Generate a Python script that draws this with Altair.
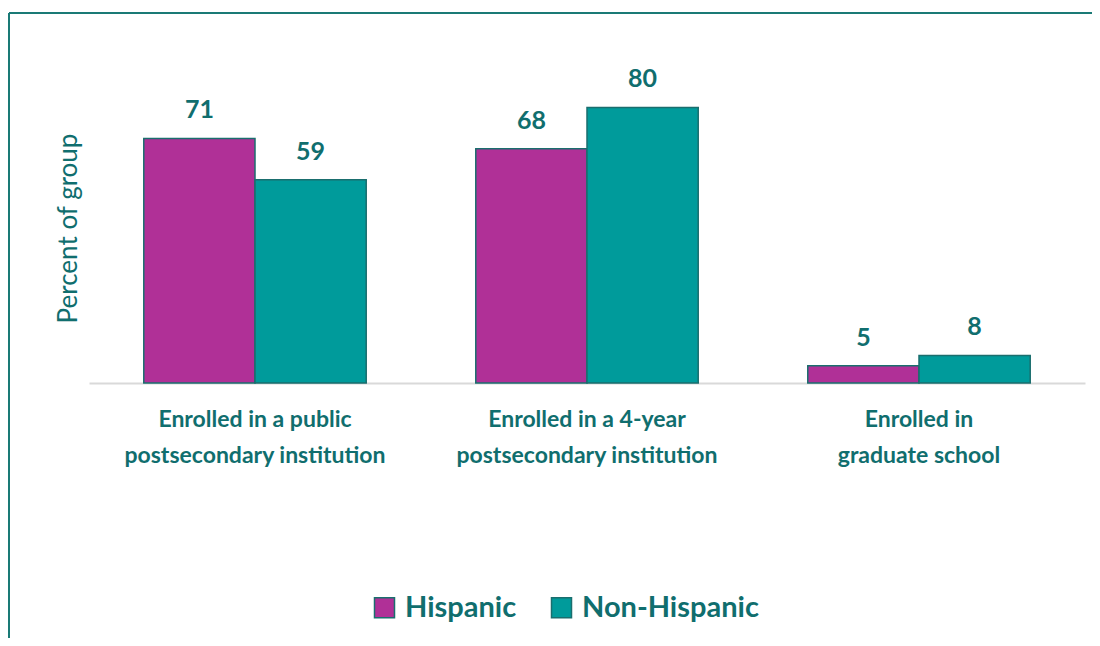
import altair as alt
import pandas as pd

categories = [
    "Enrolled in a public|postsecondary institution",
    "Enrolled in a 4-year|postsecondary institution",
    "Enrolled in|graduate school",
]
groups = ["Hispanic", "Non-Hispanic"]
hispanic = [71, 68, 5]
non_hispanic = [59, 80, 8]

rows = []
for c, h, n in zip(categories, hispanic, non_hispanic):
    rows.append({"category": c, "group": "Hispanic", "value": h})
    rows.append({"category": c, "group": "Non-Hispanic", "value": n})
df = pd.DataFrame(rows)

FONT = "Lato"
TEXT = "#106e6e"
FRAME = "#1a7a76"
colors = ["#b03097", "#009b9b"]

x = alt.X(
    "category:N",
    sort=categories,
    scale=alt.Scale(paddingInner=0.33, paddingOuter=0.165),
    axis=alt.Axis(
        title=None,
        labelExpr="split(datum.value, '|')",
        labelAngle=0,
        labelFont=FONT,
        labelFontSize=23,
        labelFontWeight="bold",
        labelColor=TEXT,
        labelLineHeight=36,
        labelPadding=25,
        labelBaseline="top",
        ticks=False,
        domainColor="#d9d9d9",
        domainWidth=2,
        labelLimit=400,
    ),
)
y = alt.Y(
    "value:Q",
    scale=alt.Scale(domain=[0, 90]),
    axis=alt.Axis(
        title="Percent of group",
        labels=False,
        ticks=False,
        domain=False,
        grid=False,
        titleFont=FONT,
        titleFontSize=26,
        titleFontWeight="normal",
        titleColor=TEXT,
        titleAngle=270,
        titleX=-21,
        titleY=155,
        titleAlign="center",
        titleBaseline="middle",
    ),
)

bars = alt.Chart(df).mark_bar(stroke="#1a6e6e", strokeWidth=1.5).encode(
    x=x,
    y=y,
    xOffset=alt.XOffset("group:N", sort=groups),
    color=alt.Color(
        "group:N",
        sort=groups,
        scale=alt.Scale(domain=groups, range=colors),
        legend=alt.Legend(
            title=None,
            orient="none",
            direction="horizontal",
            legendX=281,
            legendY=520,
            symbolType="square",
            symbolSize=400,
            symbolStrokeColor="#1a6e6e",
            symbolStrokeWidth=1.5,
            symbolOpacity=1,
            labelFont=FONT,
            labelFontSize=29,
            labelFontWeight="bold",
            labelColor=TEXT,
            labelOffset=6,
            columnPadding=30,
            padding=0,
            labelLimit=400,
        ),
    ),
)

labels = alt.Chart(df).mark_text(
    font=FONT, fontSize=25, fontWeight="bold", color=TEXT, dy=-20, baseline="alphabetic"
).encode(
    x=alt.X("category:N", sort=categories),
    y="value:Q",
    xOffset=alt.XOffset("group:N", sort=groups),
    text="value:Q",
)

frame_df = pd.DataFrame({"k": [0]})
left_line = alt.Chart(frame_df).mark_rule(color=FRAME, strokeWidth=2).encode(
    x=alt.value(-80), y=alt.value(-60), y2=alt.value(600)
)
top_line = alt.Chart(frame_df).mark_rule(color=FRAME, strokeWidth=2).encode(
    x=alt.value(-80), x2=alt.value(1010), y=alt.value(-60)
)

chart = alt.layer(bars, labels, left_line, top_line).properties(
    width=996,
    height=310,
    autosize=alt.AutoSizeParams(type="none"),
    padding={"left": 81, "top": 65, "right": 7, "bottom": 255},
).configure_view(stroke=None)

chart.save("out.html", embed_options={"renderer": "svg", "actions": False})
